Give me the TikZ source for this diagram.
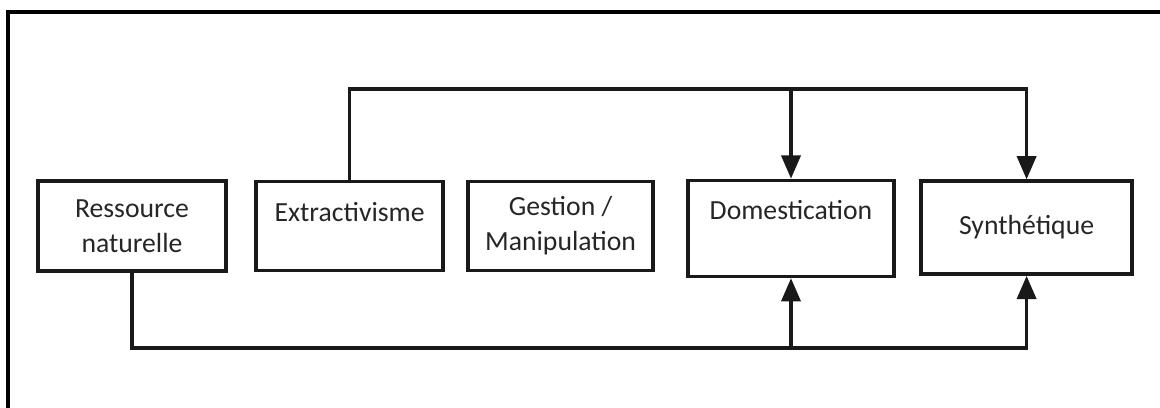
\documentclass[tikz,border=0pt]{standalone}
\usepackage{fontspec}
\setmainfont{Carlito}
\usetikzlibrary{positioning, arrows.meta}

\begin{document}
\begin{tikzpicture}
    [
        on grid, node distance=54.4mm,
        box_node/.style={rectangle, draw=black!90, line width=0.09cm, align=center, text=black!85, font=\fontsize{19.7}{24.9}\selectfont, inner sep=0mm},
        link/.style={line width=0.08cm, color=black!90},
        arrow_link/.style={link, -{Triangle[length=5.8mm, width=4.8mm]}},
    ]
        \useasboundingbox (0,0) rectangle (29,-10.175) ;
        \draw[line width=0.09cm] (0.2,-10.6) -- (0.2,-0.3) -- (29.4,-0.3) ;
        \node[box_node, minimum width=47mm, minimum height=22.5mm] (res) at (3.3,-5.65) {Ressource\\naturelle} ;
        \node[box_node, minimum width=46.75mm, minimum height=22.25mm] (ext) [right = 54.4mm of res] {Extractivisme\\[-0.6em]\strut} ;
        \node[box_node, minimum width=46.25mm, minimum height=22.25mm] (ges) [right = 52.75mm of ext] {Gestion /\\Manipulation} ;
        \node[box_node, minimum width=51.5mm, minimum height=24mm] (dom) [right = 57.6mm of ges, yshift=-0.6mm] {Domestication\\[-0.3em]\strut} ;
        \node[box_node, minimum width=52.75mm, minimum height=23.25mm] (syn) [right = 58.9mm of dom, yshift=0.2mm] {Synthétique} ;
        \coordinate (top_syn) at (syn.north |- 0,-2.225) ;
        \coordinate (top_dom) at (dom.north |- top_syn) ;
        \coordinate (bot_syn) at (syn.south |- 0,-8.7) ;
        \coordinate (bot_dom) at (dom.south |- bot_syn) ;
        \draw[arrow_link] (ext.north) |- (top_syn) -- (syn.north) ;
        \draw[arrow_link] (top_dom) -- (dom.north) ;
        \draw[arrow_link] (res.south) |- (bot_syn) -- (syn.south) ;
        \draw[arrow_link] (bot_dom) -- (dom.south) ;
    \end{tikzpicture}
\end{document}
